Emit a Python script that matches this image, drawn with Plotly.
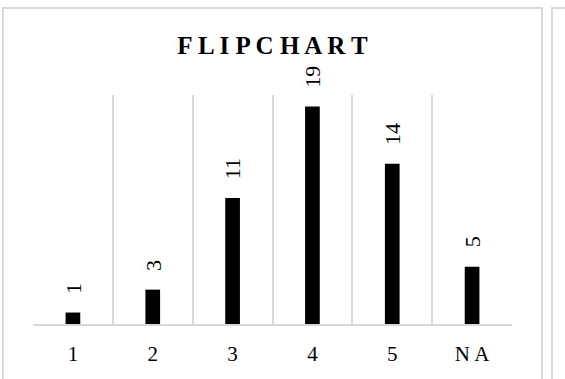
import plotly.graph_objects as go

# Responses per rating for the flipchart question
categories = ["1", "2", "3", "4", "5", "NA"]
counts = [1, 3, 11, 19, 14, 5]
title_text = "FLIPCHART"

positions = list(range(len(categories)))
serif = "Liberation Serif, Times New Roman, serif"
grid_grey = "#d9d9d9"

fig = go.Figure(
    go.Bar(
        x=positions,
        y=counts,
        width=0.184,
        marker=dict(color="#000000", line=dict(width=0)),
        hoverinfo="skip",
    )
)

# Value labels, rotated to read upwards, sitting a little above each bar
for pos, count in zip(positions, counts):
    fig.add_annotation(
        x=pos, y=count, xref="x", yref="y",
        text=str(count),
        textangle=-90,
        showarrow=False,
        xanchor="center", yanchor="bottom",
        yshift=17,
        font=dict(family=serif, size=22, color="#000000"),
    )

# Chart frame and the edge of the neighbouring panel
frame = dict(type="rect", xref="paper", yref="paper",
             line=dict(color=grid_grey, width=2), fillcolor="rgba(0,0,0,0)", layer="below")
fig.add_shape(x0=-0.0626, x1=1.0626, y0=-0.30, y1=1.3799, **frame)
fig.add_shape(x0=1.0835, x1=1.25, y0=-0.30, y1=1.3799, **frame)

# Expanded character spacing for the title and the category labels
spaced_title = " ".join(title_text)
tick_labels = ["\u2009".join(c) for c in categories]

fig.update_layout(
    width=565,
    height=379,
    margin=dict(l=33, r=53, t=95, b=55),
    paper_bgcolor="#ffffff",
    plot_bgcolor="#ffffff",
    showlegend=False,
    title=dict(
        text=f"<b>{spaced_title}</b>",
        font=dict(family=serif, size=25, color="#000000"),
        x=0.5, xref="paper", xanchor="center",
        y=1 - 45 / 379, yref="container", yanchor="middle",
    ),
    xaxis=dict(
        range=[-0.5, 5.5],
        tickmode="array",
        tickvals=positions,
        ticktext=tick_labels,
        showgrid=False,
        zeroline=False,
        showline=True,
        linecolor=grid_grey,
        linewidth=2,
        ticks="",
        ticklabelstandoff=10,
        tickfont=dict(family=serif, size=21, color="#000000"),
        minor=dict(tickmode="array", tickvals=[p - 0.5 for p in positions] + [len(positions) - 0.5],
                   showgrid=True, gridcolor=grid_grey, gridwidth=1.7, ticks=""),
        fixedrange=True,
    ),
    yaxis=dict(
        range=[0, 20],
        showgrid=False,
        zeroline=False,
        showline=False,
        showticklabels=False,
        ticks="",
        fixedrange=True,
    ),
)

fig.write_html("out.html")
